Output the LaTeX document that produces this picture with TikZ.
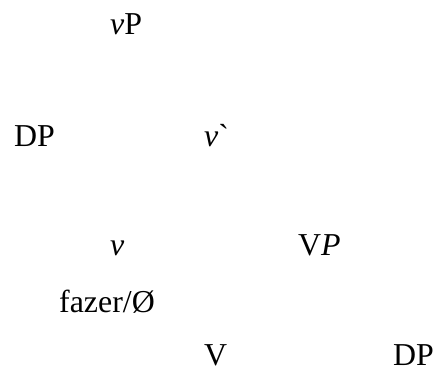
\documentclass[tikz,border=0pt]{standalone}
\usepackage{fontspec}
\setmainfont{Liberation Serif}
\newfontfamily\rawserif{Liberation Serif}[Ligatures=TeXOff]
\tikzset{lbl/.style={anchor=base west, inner sep=0pt, font=\fontsize{32}{36}\selectfont}}
\begin{document}
\begin{tikzpicture}[x=1bp,y=-1bp]
\useasboundingbox (0,0) rectangle (435,370);
\node[lbl] (vp) at (110,34) {\textit{v}P};
\node[lbl] (dp1) at (14,146) {DP};
\node[lbl] (vbar) at (204,146) {\textit{v}{\rawserif\char"60}};
\node[lbl] (v) at (110,255) {\textit{v}};
\node[lbl] (VP) at (298,255) {V\textit{P}};
\node[lbl] (fazer) at (59,312) {fazer/Ø};
\node[lbl] (V) at (204,365) {V};
\node[lbl] (dp2) at (393,365) {DP};
\end{tikzpicture}
\end{document}
